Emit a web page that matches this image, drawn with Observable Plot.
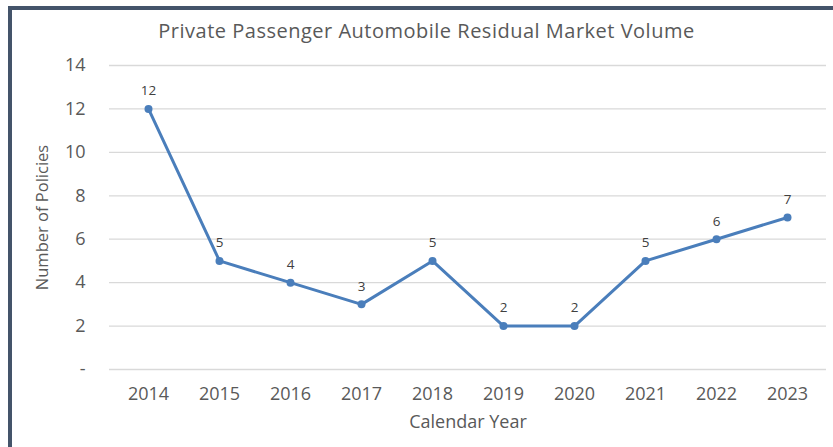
<!DOCTYPE html>
<html><head><meta charset="utf-8">
<script src="https://cdn.jsdelivr.net/npm/d3@7"></script>
<script src="https://cdn.jsdelivr.net/npm/@observablehq/plot@0.6"></script>
<style>
html,body{margin:0;padding:0;background:#fff;overflow:hidden;}
#wrap{position:relative;width:833px;height:447px;font-family:"Open Sans",sans-serif;}
#frame{position:absolute;left:8px;top:6px;width:900px;height:500px;border-left:4px solid #44546a;border-top:4px solid #44546a;box-sizing:border-box;}
#title{position:absolute;left:0;top:17px;width:853px;text-align:center;font-size:20px;letter-spacing:0.5px;color:#595959;}
#chart{position:absolute;left:0;top:0;}
</style></head>
<body><div id="wrap"><div id="frame"></div><div id="chart"></div><div id="title">Private Passenger Automobile Residual Market Volume</div></div>
<script>
const years = ["2014","2015","2016","2017","2018","2019","2020","2021","2022","2023"];
const policies = [12,5,4,3,5,2,2,5,6,7];
const yTicks = [0,2,4,6,8,10,12,14];
const data = years.map((y,i)=>({year:y, value:policies[i]}));
const chart = Plot.plot({
  width:833, height:447,
  marginTop:65, marginBottom:78, marginLeft:109, marginRight:7,
  style:{fontFamily:"Open Sans, sans-serif", background:"transparent"},
  x:{type:"point", domain:years, padding:0.5, label:null},
  y:{domain:[0,14], label:null},
  marks:[
    Plot.ruleY(yTicks, {stroke:"#d9d9d9", strokeWidth:1.3}),
    Plot.axisY(yTicks, {tickSize:0, tickPadding:24, fontSize:18, fill:"#595959", tickFormat:d=>d===0?"-":d, label:null}),
    Plot.axisX({tickSize:0, tickPadding:18, fontSize:18, fill:"#595959", label:null}),
    Plot.text(["Number of Policies"], {frameAnchor:"left", textAnchor:"middle", dx:-67, rotate:-90, fontSize:16.5, fill:"#595959"}),
    Plot.text(["Calendar Year"], {frameAnchor:"bottom", dy:58, fontSize:18, fill:"#595959"}),
    Plot.line(data, {x:"year", y:"value", stroke:"#4a7ebb", strokeWidth:3}),
    Plot.dot(data, {x:"year", y:"value", fill:"#4a7ebb", r:4}),
    Plot.text(data, {x:"year", y:"value", text:d=>String(d.value), dy:-18, fontSize:13.5, fill:"#404040"})
  ]
});
document.getElementById("chart").appendChild(chart);
</script></body></html>
